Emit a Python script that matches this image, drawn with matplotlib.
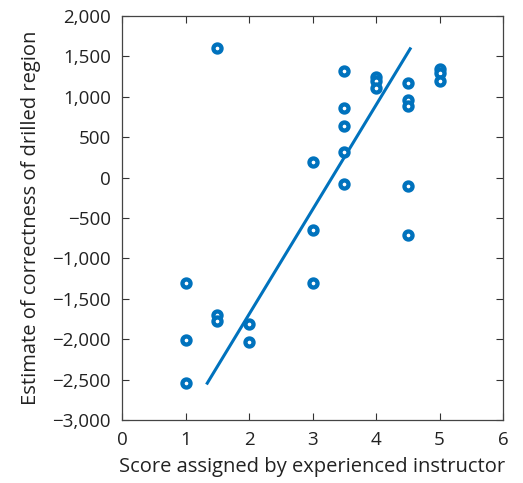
import matplotlib
matplotlib.use("Agg")
import matplotlib.pyplot as plt
from matplotlib.ticker import FuncFormatter

# scores given by instructor and the estimated correctness
score = [1, 1, 1, 1.5, 1.5, 1.5, 2, 2, 3, 3, 3,
         3.5, 3.5, 3.5, 3.5, 3.5, 4, 4, 4,
         4.5, 4.5, 4.5, 4.5, 4.5, 5, 5, 5]
estimate = [-1300, -2010, -2545, 1600, -1700, -1780, -1815, -2040, 195, -645, -1300,
            1320, 860, 635, 315, -85, 1250, 1200, 1115,
            1170, 955, 890, -100, -710, 1340, 1290, 1195]

# fitted line end points
fit_x = [1.33, 4.55]
fit_y = [-2560, 1610]

blue = "#0072BD"
grey = "#333333"

plt.rcParams["font.family"] = ["Open Sans", "DejaVu Sans"]

fig = plt.figure(figsize=(5.23, 4.83), dpi=100)
ax = fig.add_axes([0.2333, 0.1304, 0.7285, 0.8365])

ax.plot(fit_x, fit_y, color=blue, lw=2.2, solid_capstyle="butt")
ax.plot(score, estimate, "o", ls="none", mfc="white", mec=blue, ms=5.8, mew=3.1)

ax.set_xlim(0, 6)
ax.set_ylim(-3000, 2000)
ax.set_xticks(range(0, 7))
ax.set_yticks(range(-3000, 2001, 500))
ax.yaxis.set_major_formatter(FuncFormatter(lambda v, p: f"{int(v):,}".replace("-", "\u2212")))

ax.tick_params(direction="in", length=5, width=0.8, top=True, right=True,
               labelsize=13.5, colors=grey, labelcolor="#222222")
ax.tick_params(axis="y", pad=8)
ax.tick_params(axis="x", pad=8)
for s in ax.spines.values():
    s.set_color("#444444")
    s.set_linewidth(0.9)

ax.set_xlabel("Score assigned by experienced instructor", fontsize=14.5, color="#222222", labelpad=6)
ax.set_ylabel("Estimate of correctness of drilled region", fontsize=14.5, color="#222222", labelpad=8)

fig.savefig("out.png", dpi=100)
